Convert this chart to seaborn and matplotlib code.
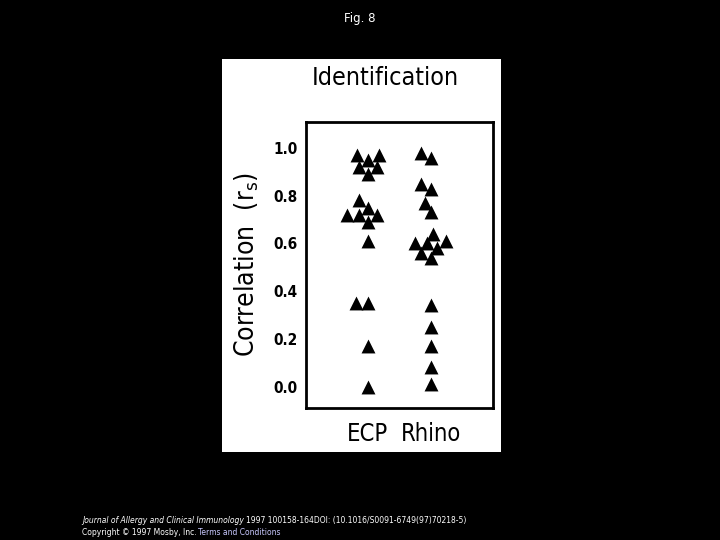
import matplotlib
matplotlib.use("Agg")
import matplotlib.pyplot as plt
import seaborn as sns
import pandas as pd
from matplotlib.patches import Rectangle

# values
ecp_vals = [0.97, 0.97, 0.95, 0.92, 0.92, 0.89,
            0.78, 0.75, 0.72, 0.72, 0.72, 0.69,
            0.61, 0.35, 0.35, 0.17, 0.00]
rhino_vals = [0.98, 0.96, 0.85, 0.83, 0.77, 0.73,
              0.64, 0.61, 0.60, 0.60, 0.58, 0.56, 0.54,
              0.34, 0.25, 0.17, 0.08, 0.01]
groups = ["ECP", "Rhino"]
yticks = [0.0, 0.2, 0.4, 0.6, 0.8, 1.0]

df = pd.DataFrame({
    "group": ["ECP"] * len(ecp_vals) + ["Rhino"] * len(rhino_vals),
    "r": ecp_vals + rhino_vals,
})

sns.set_style("white")
plt.rcParams["font.family"] = ["DejaVu Sans"]
plt.rcParams["text.color"] = "black"
plt.rcParams["axes.labelcolor"] = "black"
plt.rcParams["xtick.color"] = "black"
plt.rcParams["ytick.color"] = "black"

fig = plt.figure(figsize=(7.2, 5.4), dpi=100, facecolor="black")

# white paper panel behind the scanned plot
fig.patches.append(Rectangle((0.308, 0.163), 0.388, 0.728, transform=fig.transFigure,
                             facecolor="white", edgecolor="none", zorder=-5))

ax = fig.add_axes([0.425, 0.2445, 0.26, 0.530])
ax.set_zorder(2)
ax.set_facecolor("white")

# swarm laid out with slightly smaller points, then drawn larger so clusters overlap
sns.swarmplot(data=df, x="group", y="r", order=groups, marker="^", color="black",
              size=8, linewidth=0, ax=ax)
ax.set_xlim(-0.98, 1.98)
ax.set_ylim(-0.09, 1.11)
fig.canvas.draw()
for coll in ax.collections:
    if "draw" in coll.__dict__:
        del coll.draw
    coll.set_sizes([100])

ax.set_yticks(yticks)
ax.set_yticklabels([f"{v:.1f}" for v in yticks], fontsize=11, fontweight="bold",
                   fontstretch="condensed")
ax.set_xticks([0, 1])
ax.set_xticklabels(groups, fontsize=17, fontstretch="condensed")
ax.tick_params(axis="y", direction="out", length=4, width=1.2, pad=2)
ax.tick_params(axis="x", direction="in", length=3, width=1, pad=10)
ax.set_xlabel("")
ax.set_ylabel("Correlation  ($\\mathregular{r_s}$)", fontsize=19, fontstretch="condensed",
              labelpad=9)
for sp in ax.spines.values():
    sp.set_color("black")
    sp.set_linewidth(2)

fig.text(0.535, 0.855, "Identification", ha="center", va="center", fontsize=18,
         fontstretch="condensed", color="black", zorder=3)

fig.text(0.5, 0.966, "Fig. 8", ha="center", va="center", fontsize=8.5, color="white")
fig.text(0.114, 0.037, "Journal of Allergy and Clinical Immunology", fontsize=5.5,
         style="italic", color="white", va="center")
fig.text(0.342, 0.037, "1997 100158-164DOI: (10.1016/S0091-6749(97)70218-5)",
         fontsize=5.5, color="white", va="center")
fig.text(0.114, 0.013, "Copyright © 1997 Mosby, Inc.", fontsize=5.5, color="white",
         va="center")
fig.text(0.275, 0.013, "Terms and Conditions", fontsize=5.5, color="#c8c8ff",
         va="center")

fig.savefig("out.png", dpi=100, facecolor="black")
